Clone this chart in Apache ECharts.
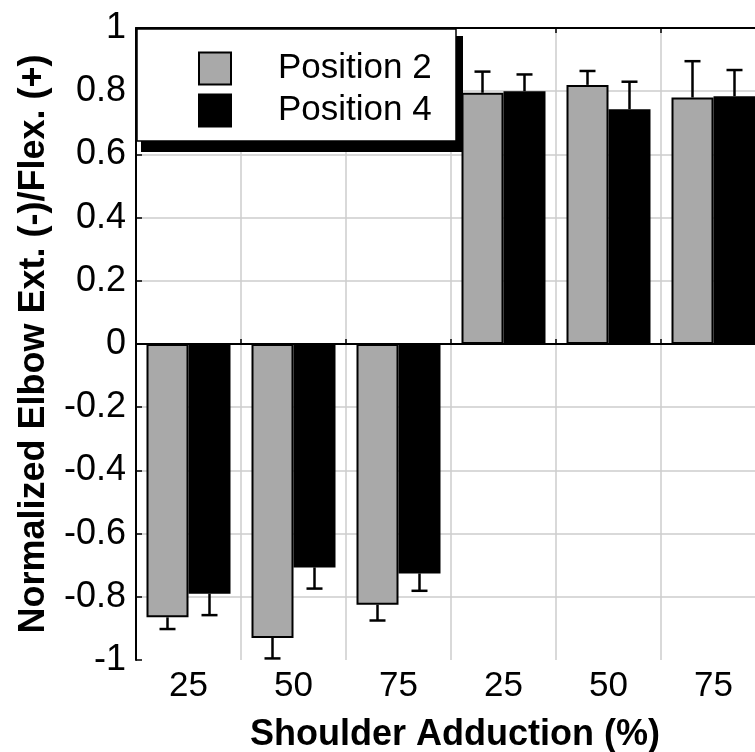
<!DOCTYPE html>
<html>
<head>
<meta charset="utf-8">
<script src="https://cdn.jsdelivr.net/npm/echarts@6/dist/echarts.min.js"></script>
<style>
html,body{margin:0;padding:0;background:#fff;}
#chart{width:755px;height:752px;}
</style>
</head>
<body>
<div id="chart"></div>
<script>
const categories = ['25', '50', '75', '25', '50', '75'];
const yTicks = { min: -1, max: 1, interval: 0.2 };
const position2 = [-0.865, -0.93, -0.825, 0.795, 0.82, 0.78];
const position2Sd = [0.037, 0.065, 0.05, 0.067, 0.044, 0.115];
const position4 = [-0.79, -0.707, -0.726, 0.80, 0.743, 0.784];
const position4Sd = [0.068, 0.067, 0.055, 0.053, 0.087, 0.083];
const seriesNames = ['Position 2', 'Position 4'];

const FONT = 'Liberation Sans, Arial, Helvetica, sans-serif';

function errData(vals, sds) {
  return vals.map((v, i) => [i, v, sds[i]]);
}
function makeErr(sign) {
  return function (params, api) {
    const i = api.value(0), v = api.value(1), sd = api.value(2);
    const band = api.size([1, 0])[0];
    const off = sign * band * 0.2;
    const base = api.coord([i, v]);
    const end = api.coord([i, v < 0 ? v - sd : v + sd]);
    const x = base[0] + off;
    const half = 8;
    const st = { stroke: '#000', lineWidth: 2.5 };
    return {
      type: 'group',
      children: [
        { type: 'line', shape: { x1: x, y1: base[1], x2: x, y2: end[1] }, style: st },
        { type: 'line', shape: { x1: x - half, y1: end[1], x2: x + half, y2: end[1] }, style: st }
      ]
    };
  };
}

const chart = echarts.init(document.getElementById('chart'), null, { renderer: 'canvas' });
chart.setOption({
  animation: false,
  backgroundColor: '#fff',
  grid: { left: 136, top: 28, bottom: 92, right: -11, containLabel: false, outerBoundsMode: 'none' },
  legend: {
    data: seriesNames,
    orient: 'vertical',
    left: 198, top: 51,
    padding: 0,
    itemWidth: 32, itemHeight: 32, itemGap: 7,
    icon: 'rect',
    z: 20,
    textStyle: { fontSize: 35, fontFamily: FONT, color: '#000', padding: [0, 0, 0, 42] }
  },
  graphic: [
    { type: 'rect', z: 10, shape: { x: 141, y: 36, width: 322, height: 116 }, style: { fill: '#000' } },
    { type: 'rect', z: 11, shape: { x: 137, y: 29, width: 319, height: 112 }, style: { fill: '#fff', stroke: '#000', lineWidth: 1.5 } }
  ],
  xAxis: [
    {
      type: 'category', data: categories, position: 'bottom',
      name: 'Shoulder Adduction (%)', nameLocation: 'middle', nameGap: 57,
      nameTextStyle: { fontSize: 36, fontWeight: 'bold', fontFamily: FONT, color: '#000', padding: [0, 0, 0, 8] },
      axisLine: { show: true, lineStyle: { color: '#000', width: 2 } },
      axisTick: { show: true, inside: true, length: 5, lineStyle: { color: '#000', width: 1.5 } },
      axisLabel: { interval: 0, fontSize: 35, fontFamily: FONT, color: '#000', margin: 9 },
      splitLine: { show: true, showMinLine: false, showMaxLine: false, lineStyle: { color: '#cccccc', width: 1.5 } }
    },
    {
      type: 'category', data: categories, position: 'top',
      axisLine: { show: true, lineStyle: { color: '#000', width: 2 } },
      axisTick: { show: true, inside: true, length: 5, lineStyle: { color: '#000', width: 1.5 } },
      axisLabel: { show: false },
      splitLine: { show: false }
    }
  ],
  yAxis: {
    type: 'value', min: yTicks.min, max: yTicks.max, interval: yTicks.interval,
    name: 'Normalized Elbow Ext. (-)/Flex. (+)', nameLocation: 'middle', nameGap: 84,
    nameTextStyle: { fontSize: 36, fontWeight: 'bold', fontFamily: FONT, color: '#000' },
    axisLine: { show: true, lineStyle: { color: '#000', width: 2 } },
    axisTick: { show: true, inside: true, length: 6, lineStyle: { color: '#000', width: 1.5 } },
    axisLabel: { fontSize: 36, fontFamily: FONT, color: '#000', margin: 10 },
    splitLine: { show: true, showMinLine: false, showMaxLine: false, lineStyle: { color: '#cccccc', width: 1.5 } }
  },
  series: [
    {
      name: seriesNames[0], type: 'bar', data: position2, barWidth: '40%', barGap: '0%', z: 2,
      itemStyle: { color: '#a9a9a9', borderColor: '#000', borderWidth: 2 },
      markLine: {
        silent: true, symbol: 'none', label: { show: false },
        lineStyle: { color: '#000', width: 2, type: 'solid' },
        data: [{ yAxis: 0 }]
      }
    },
    {
      name: seriesNames[1], type: 'bar', data: position4, barWidth: '40%', barGap: '0%', z: 2,
      itemStyle: { color: '#000', borderColor: '#000', borderWidth: 2 }
    },
    {
      type: 'custom', name: 'err2', data: errData(position2, position2Sd),
      renderItem: makeErr(-1), z: 3, silent: true,
      encode: { x: 0, y: 1 }
    },
    {
      type: 'custom', name: 'err4', data: errData(position4, position4Sd),
      renderItem: makeErr(1), z: 3, silent: true,
      encode: { x: 0, y: 1 }
    }
  ]
});
</script>
</body>
</html>
